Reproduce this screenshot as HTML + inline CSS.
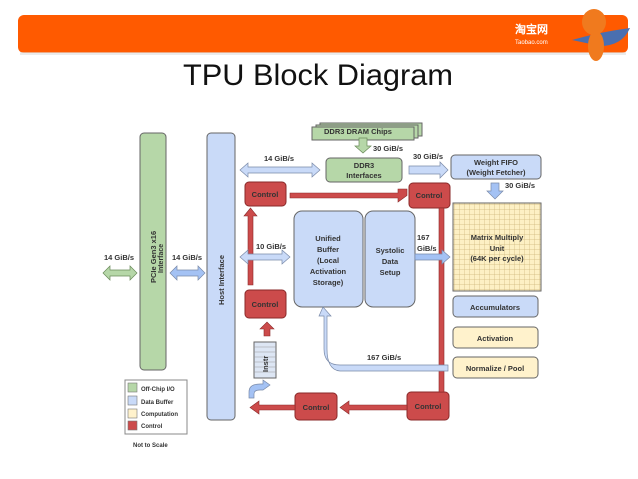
<!DOCTYPE html>
<html><head><meta charset="utf-8"><style>
html,body{margin:0;padding:0;background:#fff;width:638px;height:479px;overflow:hidden}
svg{display:block}
text{font-family:"Liberation Sans",Arial,sans-serif;font-weight:bold;fill:#333}
</style></head><body>
<svg width="638" height="479" viewBox="0 0 638 479" xmlns="http://www.w3.org/2000/svg">
<defs>
<pattern id="grid" width="5" height="5" patternUnits="userSpaceOnUse">
<rect width="5" height="5" fill="#fdf0c4"/>
<path d="M5 0V5M0 5H5" stroke="#cdb57a" stroke-width="0.7"/>
</pattern>
</defs>
<!-- banner -->
<rect x="18" y="15" width="610" height="38" rx="6" fill="#ff5a00"/>
<rect x="20" y="52" width="606" height="3" fill="#ddd" opacity="0.6"/>
<text x="515" y="33" style="font-size:11px;fill:#fff" font-family="Noto Sans CJK SC">淘宝网</text>
<text x="515" y="44" style="font-size:6px;fill:#fff;font-weight:normal">Taobao.com</text>
<path d="M572 40 Q600 32 630 28 Q622 46 600 46 Z" fill="#4a6fb0"/>
<ellipse cx="594" cy="22" rx="12" ry="13" fill="#f07a1e"/>
<ellipse cx="596" cy="46" rx="8" ry="15" fill="#f07a1e"/>
<!-- title -->
<text x="183" y="85" textLength="270" lengthAdjust="spacingAndGlyphs" style="font-size:30px;font-weight:normal;fill:#111">TPU Block Diagram</text>

<g stroke="#666" stroke-width="1">
<rect x="140" y="133" width="26" height="237" rx="4" fill="#b6d7a8"/>
<rect x="207" y="133" width="28" height="287" rx="4" fill="#c9daf8"/>
<rect x="320" y="123" width="102" height="13" fill="#b6d7a8"/>
<rect x="316" y="125" width="102" height="13" fill="#b6d7a8"/>
<rect x="312" y="127" width="102" height="13" fill="#b6d7a8"/>
<rect x="326" y="158" width="76" height="24" rx="4" fill="#b6d7a8"/>
<rect x="451" y="155" width="90" height="24" rx="4" fill="#c9daf8"/>
<rect x="453" y="203" width="88" height="88" fill="url(#grid)"/>
<rect x="294" y="211" width="69" height="96" rx="8" fill="#c9daf8"/>
<rect x="365" y="211" width="50" height="96" rx="8" fill="#c9daf8"/>
<rect x="453" y="296" width="85" height="21" rx="4" fill="#c9daf8"/>
<rect x="453" y="327" width="85" height="21" rx="4" fill="#fff2cc"/>
<rect x="453" y="357" width="85" height="21" rx="4" fill="#fff2cc"/>
<g fill="#cc4b4b" stroke="#8a2a2a">
<rect x="245" y="182" width="41" height="24" rx="4"/>
<rect x="409" y="183" width="41" height="25" rx="4"/>
<rect x="245" y="290" width="41" height="28" rx="4"/>
<rect x="407" y="392" width="42" height="28" rx="4"/>
<rect x="295" y="393" width="42" height="27" rx="4"/>
</g>
<rect x="254" y="342" width="22" height="36" fill="#dde6f4"/>
</g>
<g stroke="#999" stroke-width="0.5">
<path d="M254 347H276M254 352H276M254 357H276M254 362H276M254 367H276M254 372H276"/>
</g>
<g fill="#cc4b4b" stroke="#8a2a2a" stroke-width="0.6">
<path d="M290 193H398V189H407V195.5L398 202V198H290Z"/>
<rect x="439" y="208" width="5" height="184"/>
<path d="M248 285V216H244L250.5 208L257 216H253V285Z"/>
<path d="M264 336V329H260L267 322L274 329H270V336Z"/>
<path d="M407 405H349V401L340 407.5L349 414V410H407Z"/>
<path d="M295 405H259V401L250 407.5L259 414V410H295Z"/>
</g>
<g fill="#b6d7a8" stroke="#6a8a5a" stroke-width="0.7">
<path d="M103 273L110 266V270H130V266L137 273L130 280V276H110V280Z"/>
<path d="M359 138H367V146H371L363 153L355 146H359Z" />
</g>
<g fill="#c9daf8" stroke="#7a8aa8" stroke-width="0.7">
<path d="M170 273L177 266V270H198V266L205 273L198 280V276H177V280Z" fill="#a4c2f4"/>
<path d="M240 170L248 163V167H312V163L320 170L312 177V173H248V177Z"/>
<path d="M409 166H440V162L448 170L440 178V174H409Z"/>
<path d="M491 183H499V191H503L495 199L487 191H491Z" fill="#a4c2f4"/>
<path d="M240 257L248 250V254H282V250L290 257L282 264V260H248V264Z"/>
<path d="M415 254H442V250L450 257L442 264V260H415Z" fill="#a4c2f4"/>
<path d="M448 365H340Q324 365 324 349V316H319L323 307L331 316H327V349Q327 370 340 371H448Z"/>
<path d="M249 398V392Q249 384 260 384H263V380L270 385L263 390H260Q254 390 254 394V398Z" fill="#a4c2f4"/>
</g>
<g style="font-size:7.5px">
<text x="104" y="260">14 GiB/s</text>
<text x="172" y="260">14 GiB/s</text>
<text x="264" y="161">14 GiB/s</text>
<text x="373" y="151">30 GiB/s</text>
<text x="413" y="159">30 GiB/s</text>
<text x="505" y="188">30 GiB/s</text>
<text x="256" y="249">10 GiB/s</text>
<text x="417" y="240">167</text>
<text x="417" y="251">GiB/s</text>
<text x="367" y="360">167 GiB/s</text>
<text x="324" y="134">DDR3 DRAM Chips</text>
<text x="364" y="168" text-anchor="middle">DDR3</text>
<text x="364" y="178" text-anchor="middle">Interfaces</text>
<text x="496" y="165" text-anchor="middle">Weight FIFO</text>
<text x="496" y="175" text-anchor="middle">(Weight Fetcher)</text>
<text x="497" y="240" text-anchor="middle">Matrix Multiply</text>
<text x="497" y="251" text-anchor="middle">Unit</text>
<text x="497" y="261" text-anchor="middle">(64K per cycle)</text>
<text x="328" y="241" text-anchor="middle">Unified</text>
<text x="328" y="252" text-anchor="middle">Buffer</text>
<text x="328" y="263" text-anchor="middle">(Local</text>
<text x="328" y="274" text-anchor="middle">Activation</text>
<text x="328" y="285" text-anchor="middle">Storage)</text>
<text x="390" y="253" text-anchor="middle">Systolic</text>
<text x="390" y="264" text-anchor="middle">Data</text>
<text x="390" y="275" text-anchor="middle">Setup</text>
<text x="495" y="310" text-anchor="middle">Accumulators</text>
<text x="495" y="341" text-anchor="middle">Activation</text>
<text x="495" y="371" text-anchor="middle">Normalize / Pool</text>
<text x="265" y="197" text-anchor="middle">Control</text>
<text x="429" y="198" text-anchor="middle">Control</text>
<text x="265" y="307" text-anchor="middle">Control</text>
<text x="428" y="409" text-anchor="middle">Control</text>
<text x="316" y="410" text-anchor="middle">Control</text>
<text transform="translate(156 283) rotate(-90)">PCIe Gen3 x16</text>
<text transform="translate(163 273) rotate(-90)" style="font-size:7px">Interface</text>
<text transform="translate(224 305) rotate(-90)">Host Interface</text>
<text transform="translate(268 372) rotate(-90)">Instr</text>
</g>
<rect x="125" y="380" width="62" height="54" fill="#fff" stroke="#888"/>
<g stroke="#777" stroke-width="0.6">
<rect x="128" y="383" width="9" height="9" fill="#b6d7a8"/>
<rect x="128" y="396" width="9" height="9" fill="#c9daf8"/>
<rect x="128" y="409" width="9" height="9" fill="#fff2cc"/>
<rect x="128" y="421" width="9" height="9" fill="#cc4b4b"/>
</g>
<g style="font-size:6px">
<text x="141" y="391">Off-Chip I/O</text>
<text x="141" y="404">Data Buffer</text>
<text x="141" y="416">Computation</text>
<text x="141" y="428">Control</text>
<text x="133" y="447">Not to Scale</text>
</g>
</svg>
</body></html>
